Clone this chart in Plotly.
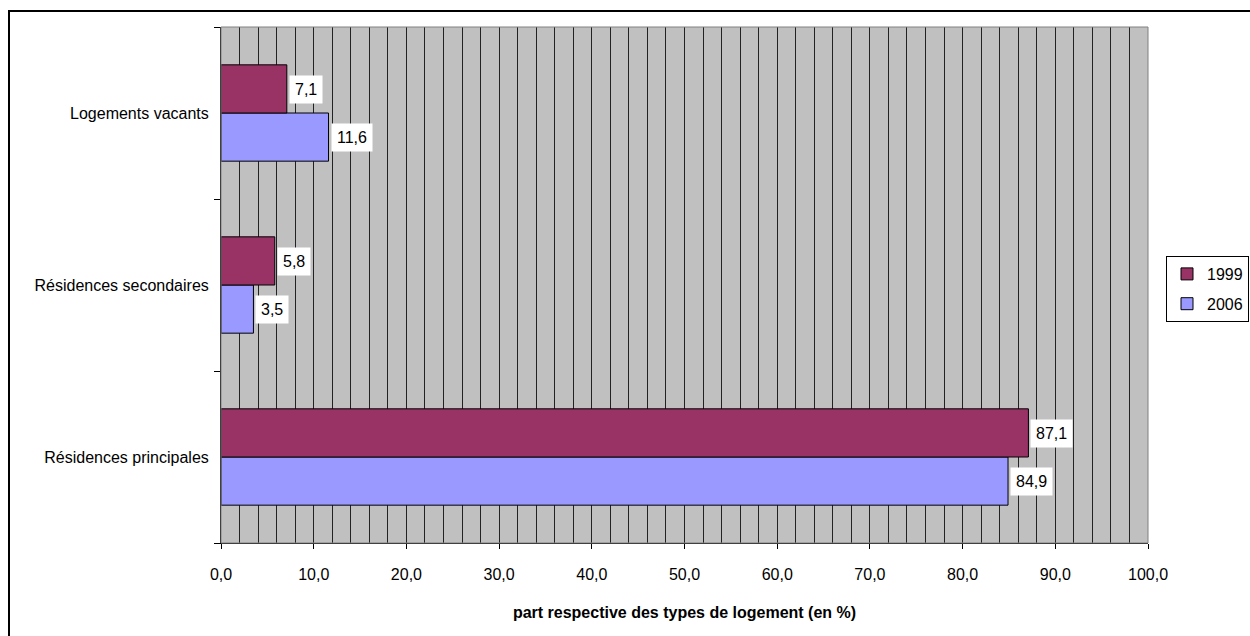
import plotly.graph_objects as go

# Housing types (bottom to top) and their shares in %
categories = ["Résidences principales", "Résidences secondaires", "Logements vacants"]
share_1999 = [87.1, 5.8, 7.1]
share_2006 = [84.9, 3.5, 11.6]
x_ticks = [0, 10, 20, 30, 40, 50, 60, 70, 80, 90, 100]

COL_1999 = "#993366"
COL_2006 = "#9999FF"
FONT = "Liberation Sans, Arial, sans-serif"
FS = 16

W, H = 1250, 636
L, R, T, B = 221, 102, 27, 93
pw, ph = W - L - R, H - T - B


def fmt(v):
    return f"{v:.1f}".replace(".", ",")


fig = go.Figure()
# 2006 drawn first so it sits below 1999 inside each group
fig.add_trace(go.Bar(
    y=categories, x=share_2006, orientation="h", name="2006",
    marker=dict(color=COL_2006, line=dict(color="black", width=1)),
    legendgroup="b", legendrank=2,
))
fig.add_trace(go.Bar(
    y=categories, x=share_1999, orientation="h", name="1999",
    marker=dict(color=COL_1999, line=dict(color="black", width=1)),
    legendgroup="a", legendrank=1,
))

# value labels in white boxes at the end of each bar
annotations = []
for series, shift in ((share_1999, 24), (share_2006, -24)):
    for cat, v in zip(categories, series):
        annotations.append(dict(x=v, y=cat, xref="x", yref="y", text=fmt(v),
                                showarrow=False, xanchor="left", yanchor="middle",
                                xshift=2, yshift=shift, bgcolor="white", borderpad=5,
                                font=dict(size=FS, color="black", family=FONT)))

shapes = [
    # plot area frame
    dict(type="rect", xref="paper", yref="paper", x0=0, x1=1, y0=0, y1=1,
         line=dict(color="#808080", width=1), layer="above"),
    # outer chart border
    dict(type="rect", xref="paper", yref="paper",
         x0=(9 - L) / pw, x1=(1300 - L) / pw,
         y0=(T + ph - 700) / ph, y1=(T + ph - 11) / ph,
         line=dict(color="black", width=2), layer="above"),
]

fig.update_layout(
    width=W, height=H,
    margin=dict(l=L, r=R, t=T, b=B, autoexpand=False),
    paper_bgcolor="white",
    plot_bgcolor="#C0C0C0",
    barmode="group",
    bargap=0.44,
    bargroupgap=0,
    separators=", ",
    font=dict(family=FONT, size=FS, color="black"),
    annotations=annotations,
    shapes=shapes,
    showlegend=True,
    legend=dict(
        x=(1166 - L) / pw, y=(T + ph - 256) / ph, xanchor="left", yanchor="top",
        traceorder="grouped", tracegroupgap=6,
        bgcolor="white", bordercolor="black", borderwidth=1,
        font=dict(size=FS, family=FONT, color="black"),
        itemwidth=30,
    ),
    xaxis=dict(
        range=[0, 100], tickvals=x_ticks, tickformat=".1f",
        showgrid=True, gridcolor="#222222", gridwidth=1,
        minor=dict(dtick=2, showgrid=True, gridcolor="#222222", gridwidth=1),
        showline=True, linecolor="black", linewidth=1,
        ticks="outside", ticklen=5, tickcolor="black",
        ticklabelstandoff=12,
        zeroline=False, fixedrange=True,
        title=dict(text="<b>part respective des types de logement (en %)</b>",
                   font=dict(size=FS, family=FONT), standoff=24),
    ),
    yaxis=dict(
        type="category", categoryorder="array", categoryarray=categories,
        tickson="boundaries", ticks="outside", ticklen=6, tickcolor="black",
        showgrid=False, showline=True, linecolor="black", linewidth=1,
        zeroline=False, fixedrange=True, ticklabelstandoff=8,
    ),
)

fig.write_html("out.html")
